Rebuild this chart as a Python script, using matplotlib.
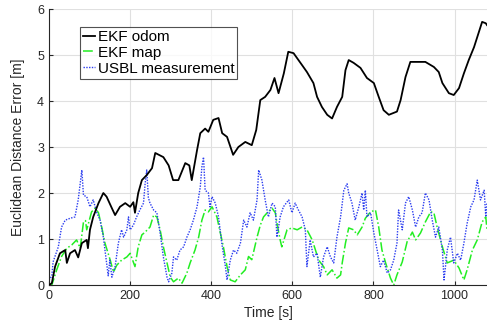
import numpy as np
import matplotlib
matplotlib.use("Agg")
import matplotlib.pyplot as plt

plt.rcParams['font.family'] = ['Liberation Sans', 'DejaVu Sans']

# EKF odom (black)
t_odom = [0, 7, 15, 27, 40, 44, 52, 64, 72, 81, 93, 96, 101, 109, 122, 134, 142,
          155, 163, 175, 188, 200, 208, 212, 220, 229, 241, 254, 262, 282, 295,
          306, 319, 336, 346, 352, 365, 373, 385, 393, 405, 418, 427, 439, 454,
          467, 484, 500, 511, 521, 533, 546, 556, 566, 579, 590, 603, 624, 636,
          652, 661, 673, 686, 698, 710, 723, 731, 739, 751, 768, 784, 801, 813,
          825, 838, 858, 867, 879, 891, 908, 928, 949, 961, 970, 986, 998, 1011,
          1023, 1035, 1048, 1056, 1068, 1077, 1080]
v_odom = [0.0, 0.04, 0.4, 0.69, 0.76, 0.48, 0.69, 0.76, 0.6, 0.91, 0.98, 0.8, 1.2,
          1.48, 1.78, 2.0, 1.92, 1.67, 1.52, 1.7, 1.78, 1.7, 1.8, 1.57, 2.0,
          2.28, 2.39, 2.54, 2.87, 2.78, 2.6, 2.28, 2.28, 2.65, 2.6, 2.28, 2.93,
          3.3, 3.4, 3.33, 3.59, 3.63, 3.3, 3.22, 2.83, 3.0, 3.11, 3.04, 3.37,
          4.02, 4.09, 4.24, 4.5, 4.17, 4.6, 5.07, 5.04, 4.78, 4.63, 4.39, 4.09,
          3.87, 3.7, 3.62, 3.87, 4.09, 4.67, 4.89, 4.83, 4.72, 4.5, 4.39, 4.09,
          3.8, 3.7, 3.77, 4.02, 4.52, 4.85, 4.85, 4.85, 4.74, 4.63, 4.39, 4.17,
          4.13, 4.28, 4.6, 4.89, 5.17, 5.39, 5.72, 5.69, 5.65]

# EKF map (green)
t_map = [0, 7, 19, 31, 44, 56, 68, 77, 85, 90, 93, 105, 114, 122, 130, 138, 151,
         159, 167, 179, 192, 200, 212, 220, 229, 237, 249, 258, 266, 274, 282,
         291, 299, 307, 319, 328, 340, 348, 360, 369, 377, 385, 393, 402, 414,
         422, 430, 439, 447, 459, 472, 484, 492, 500, 513, 521, 529, 538, 550,
         558, 563, 570, 574, 587, 599, 612, 624, 636, 649, 657, 665, 677, 686,
         698, 710, 719, 723, 731, 739, 751, 760, 772, 780, 793, 805, 813, 821,
         830, 842, 850, 858, 871, 883, 896, 904, 916, 928, 941, 949, 957, 970,
         982, 998, 1011, 1023, 1031, 1044, 1056, 1068, 1077, 1080]
v_map = [0.0, 0.0, 0.33, 0.62, 0.8, 0.87, 0.98, 0.8, 1.37, 1.4, 1.2, 1.59, 1.67,
         1.57, 1.26, 0.91, 0.54, 0.28, 0.43, 0.54, 0.61, 0.69, 0.4, 0.83, 1.09,
         1.15, 1.26, 1.52, 1.48, 1.2, 0.83, 0.48, 0.17, 0.07, 0.15, 0.04, 0.26,
         0.48, 0.76, 1.04, 1.41, 1.63, 1.59, 1.7, 1.48, 1.15, 0.83, 0.4, 0.11,
         0.07, 0.22, 0.33, 0.62, 0.55, 1.04, 1.3, 1.48, 1.57, 1.67, 1.57, 1.3,
         0.98, 0.83, 1.2, 1.24, 1.2, 1.26, 1.2, 0.98, 0.76, 0.54, 0.4, 0.22,
         0.33, 0.15, 0.22, 0.48, 0.91, 1.24, 1.2, 1.09, 1.26, 1.45, 1.59, 1.63,
         1.26, 0.76, 0.48, 0.15, 0.0, 0.22, 0.5, 0.94, 1.15, 0.98, 1.13, 1.37,
         1.59, 1.57, 1.26, 0.83, 0.48, 0.54, 0.37, 0.11, 0.33, 0.76, 0.98, 1.37,
         1.48, 1.2]

# USBL measurement (blue)
t_usbl = [0, 7, 10, 23, 31, 40, 52, 64, 72, 81, 85, 93, 101, 109, 118, 126, 134,
          142, 146, 150, 155, 163, 171, 179, 184, 192, 196, 200, 208, 216, 224,
          233, 237, 241, 245, 249, 258, 266, 274, 282, 291, 295, 303, 307, 315,
          323, 332, 340, 348, 356, 365, 373, 377, 381, 385, 393, 397, 402, 410,
          418, 426, 435, 439, 447, 455, 463, 472, 480, 488, 496, 504, 513, 517,
          525, 533, 541, 550, 558, 562, 570, 578, 591, 599, 607, 615, 624, 632,
          636, 644, 652, 661, 669, 677, 686, 694, 702, 710, 719, 727, 735, 739,
          747, 755, 764, 772, 776, 780, 784, 793, 801, 809, 817, 825, 834, 842,
          850, 858, 862, 871, 879, 887, 896, 904, 912, 920, 928, 937, 945, 953,
          961, 970, 974, 982, 990, 998, 1007, 1015, 1023, 1031, 1040, 1048, 1056,
          1064, 1073, 1077, 1080]
v_usbl = [0.1, 0.2, 0.5, 0.83, 1.26, 1.41, 1.45, 1.48, 1.85, 2.5, 1.95, 1.92,
          1.7, 1.85, 1.57, 1.41, 1.04, 0.48, 0.2, 0.54, 0.17, 0.4, 0.91, 1.2,
          1.04, 1.2, 1.48, 1.2, 1.3, 1.48, 1.63, 1.78, 2.2, 2.5, 1.9, 1.78, 1.63,
          1.57, 1.13, 0.61, 0.17, 0.07, 0.26, 0.61, 0.54, 0.76, 0.83, 1.04, 1.2,
          1.41, 1.7, 2.13, 2.57, 2.78, 2.06, 2.0, 1.7, 1.92, 1.78, 1.48, 0.91,
          0.4, 0.11, 0.54, 0.76, 0.69, 0.91, 1.41, 1.26, 1.57, 1.41, 1.85, 2.5,
          2.28, 1.85, 1.48, 1.78, 1.7, 1.04, 1.48, 1.7, 1.85, 1.57, 1.78, 1.63,
          1.48, 1.2, 0.4, 0.98, 0.61, 0.69, 0.17, 0.61, 0.83, 0.61, 0.48, 1.04,
          1.48, 2.06, 2.2, 2.0, 1.78, 1.41, 1.7, 2.0, 1.63, 2.06, 1.48, 1.57,
          1.13, 0.76, 0.4, 0.54, 0.26, 0.33, 0.54, 0.91, 1.63, 1.2, 1.78, 1.92,
          1.63, 1.26, 1.48, 1.57, 2.0, 1.85, 1.41, 1.04, 1.26, 0.76, 0.11, 0.76,
          1.04, 0.48, 0.69, 0.54, 0.91, 1.34, 1.7, 1.85, 2.28, 1.85, 2.06, 1.48,
          1.8]

fig = plt.figure(figsize=(4.87, 3.30), dpi=100)
ax = fig.add_axes([49/487, 45/330, 438/487, 276/330])

ax.plot(t_odom, v_odom, color='k', lw=1.3, label='EKF odom', zorder=3)
ax.plot(t_map, v_map, color='#22ee22', lw=1.1, ls='-.', label='EKF map', zorder=2)
ax.plot(t_usbl, v_usbl, color='#2a3cf0', lw=1.0, ls=(0, (1, 1)),
        label='USBL measurement', zorder=2)

ax.set_xlim(0, 1080)
ax.set_ylim(0, 6)
ax.set_xticks([0, 200, 400, 600, 800, 1000])
ax.set_yticks(range(7))
ax.grid(True, color='#e0e0e0', lw=0.8)
ax.set_axisbelow(True)
ax.tick_params(direction='in', length=3, labelsize=9, colors='#262626')
for s in ['top', 'right']:
    ax.spines[s].set_visible(False)
for s in ['left', 'bottom']:
    ax.spines[s].set_color('#262626')
    ax.spines[s].set_linewidth(0.8)
ax.set_xlabel('Time [s]', fontsize=10, color='#262626', labelpad=3)
ax.set_ylabel('Euclidean Distance Error [m]', fontsize=10, color='#262626', labelpad=9)

leg = ax.legend(loc='upper left', bbox_to_anchor=(0.071, 0.935), fontsize=11,
                frameon=True, fancybox=False, edgecolor='#262626',
                handlelength=0.8, handletextpad=0.15, borderpad=0.2,
                labelspacing=0.12, borderaxespad=0)
leg.get_frame().set_linewidth(0.8)

fig.savefig('out.png', dpi=100)
